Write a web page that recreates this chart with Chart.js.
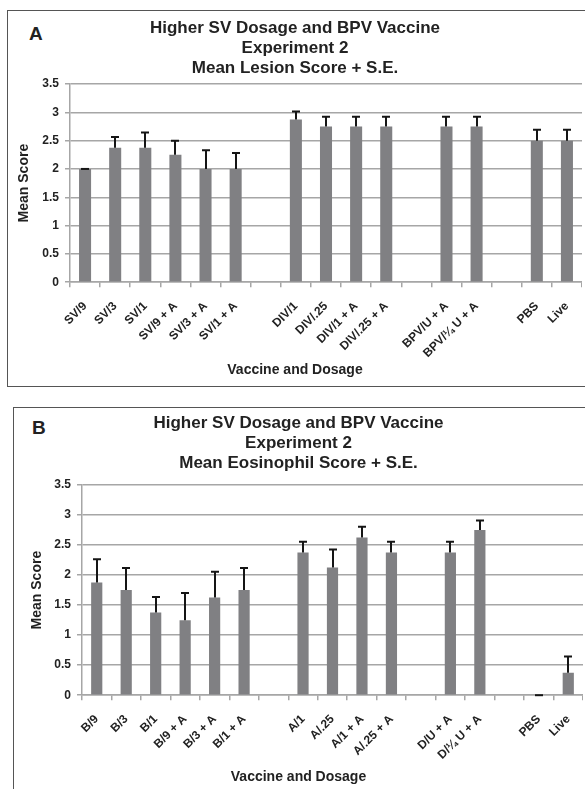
<!DOCTYPE html>
<html><head><meta charset="utf-8">
<script src="https://cdn.jsdelivr.net/npm/chart.js@4/dist/chart.umd.min.js"></script>
<style>
html,body{margin:0;padding:0;background:#fff;overflow:hidden;width:585px;height:789px;position:relative}
.panel{position:absolute;border:1px solid #555;box-sizing:border-box;background:#fff}
.letter{position:absolute;font:bold 19px "Liberation Sans",Arial,sans-serif;line-height:20px;color:#222}
canvas{position:absolute}
</style></head><body>
<div class="panel" style="left:7px;top:10px;width:620px;height:377px"></div>
<div class="panel" style="left:13px;top:407px;width:620px;height:420px"></div>
<div class="letter" style="left:29px;top:24px">A</div>
<div class="letter" style="left:32px;top:418px">B</div>
<canvas id="cA" width="574" height="375" style="left:8px;top:11px"></canvas>
<canvas id="cB" width="569" height="381" style="left:14px;top:408px"></canvas>
<script>
// ---- Data ----
const catsA = ['SV/9','SV/3','SV/1','SV/9 + A','SV/3 + A','SV/1 + A','','DIV/1','DIV/.25','DIV/1 + A','DIV/.25 + A','','BPV/U + A','BPV/\u00bc U + A','','PBS','Live'];
const meanA = [2.0,2.375,2.375,2.25,2.0,2.0,null,2.875,2.75,2.75,2.75,null,2.75,2.75,null,2.5,2.5];
const seA   = [0,0.19,0.27,0.25,0.33,0.28,null,0.14,0.17,0.17,0.17,null,0.17,0.17,null,0.19,0.19];

const catsB = ['B/9','B/3','B/1','B/9 + A','B/3 + A','B/1 + A','','A/1','A/.25','A/1 + A','A/.25 + A','','D/U + A','D/\u00bc U + A','','PBS','Live'];
const meanB = [1.875,1.75,1.375,1.25,1.625,1.75,null,2.375,2.125,2.625,2.375,null,2.375,2.75,null,0,0.375];
const seB   = [0.39,0.37,0.26,0.45,0.43,0.37,null,0.18,0.30,0.18,0.18,null,0.18,0.16,null,0,0.27];

const yTicks = [0,0.5,1,1.5,2,2.5,3,3.5];
const titleA = ['Higher SV Dosage and BPV Vaccine','Experiment 2','Mean Lesion Score + S.E.'];
const titleB = ['Higher SV Dosage and BPV Vaccine','Experiment 2','Mean Eosinophil Score + S.E.'];
const xTitle = 'Vaccine and Dosage';
const yTitle = 'Mean Score';

Chart.defaults.font.family = '"Liberation Sans", Arial, sans-serif';
Chart.defaults.color = '#222';

const errorBars = {
  id: 'errorBars',
  afterDatasetsDraw(chart, args, opts) {
    const meta = chart.getDatasetMeta(0);
    const ys = chart.scales.y;
    const data = chart.data.datasets[0].data;
    const se = opts.se || [];
    const ctx = chart.ctx;
    ctx.save();
    ctx.strokeStyle = '#151515';
    ctx.lineWidth = 2;
    meta.data.forEach((bar, i) => {
      const v = data[i];
      if (v == null || se[i] == null) return;
      const y0 = ys.getPixelForValue(v);
      const y1 = ys.getPixelForValue(v + se[i]);
      const x = Math.round(bar.x);
      ctx.beginPath();
      ctx.moveTo(x, y0); ctx.lineTo(x, y1);
      ctx.moveTo(x - 4, y1); ctx.lineTo(x + 4, y1);
      ctx.stroke();
    });
    ctx.restore();
  }
};

function makeChart(id, cats, mean, se, title, o) {
  return new Chart(document.getElementById(id), {
    type: 'bar',
    data: { labels: cats, datasets: [{ data: mean, backgroundColor: '#808083', borderWidth: 0,
      barPercentage: o.barPct, categoryPercentage: 1 }] },
    options: {
      responsive: false, animation: false, devicePixelRatio: 1,
      layout: { padding: 0 },
      plugins: {
        legend: { display: false }, tooltip: { enabled: false },
        title: { display: true, text: title, color: '#222',
          font: { size: 17, weight: 'bold', lineHeight: '20px' },
          padding: { top: o.tPadTop, bottom: o.tPadBot } },
        subtitle: { display: true, text: xTitle, position: 'bottom', color: '#222',
          font: { size: 14, weight: 'bold', lineHeight: 1.2 },
          padding: { top: 0, bottom: o.sPadBot } },
        errorBars: { se: se }
      },
      scales: {
        x: {
          afterFit: s => { s.height = o.xH; s.paddingLeft = 0; s.paddingRight = 0; },
          grid: { drawOnChartArea: false, drawTicks: true, tickLength: 5, color: '#a6a6a6', lineWidth: 1.5 },
          border: { color: '#a6a6a6', width: 1.5 },
          ticks: { autoSkip: false, minRotation: 45, maxRotation: 45, padding: 12,
            font: { size: 12, weight: 'bold' }, color: '#222' }
        },
        y: {
          min: 0, max: 3.5,
          afterFit: s => { s.width = o.yW; },
          afterBuildTicks: s => { s.ticks = yTicks.map(v => ({ value: v })); },
          grid: { color: '#a6a6a6', lineWidth: 1.5, tickLength: 5 },
          border: { color: '#a6a6a6', width: 1.5 },
          ticks: { padding: 6, font: { size: 12, weight: 'bold' }, color: '#222',
            callback: v => String(v) },
          title: { display: true, text: yTitle, color: '#222',
            font: { size: 14, weight: 'bold', lineHeight: 1.2 }, padding: { top: o.yTPad, bottom: 0 } }
        }
      }
    },
    plugins: [errorBars]
  });
}

makeChart('cA', catsA, meanA, seA, titleA, { barPct: 0.4, tPadTop: 7, tPadBot: 6, sPadBot: 7, xH: 80, yW: 62, yTPad: 8 });
makeChart('cB', catsB, meanB, seB, titleB, { barPct: 0.38, tPadTop: 5, tPadBot: 12, sPadBot: 3, xH: 74, yW: 68, yTPad: 15 });
</script>
</body></html>
